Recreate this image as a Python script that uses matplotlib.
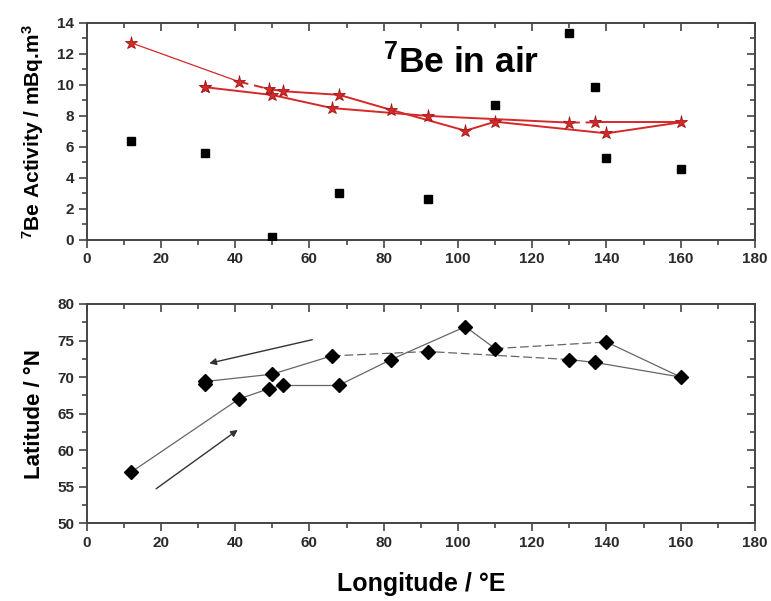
import numpy as np
import matplotlib
matplotlib.use('Agg')
import matplotlib.pyplot as plt
from matplotlib.ticker import MultipleLocator

# cruise track, in sailing order
lon = [12, 41, 49, 53, 68, 82, 102, 110, 140, 160, 137, 130, 92, 66, 50, 32, 32]
lat = [57.0, 67.0, 68.4, 68.9, 68.9, 72.4, 76.9, 73.9, 74.8, 70.0, 72.0, 72.4, 73.5, 72.9, 70.4, 69.4, 69.0]
be_air = [12.7, 10.2, 9.73, 9.58, 9.35, 8.38, 7.04, 7.62, 6.87, 7.58, 7.58, 7.56, 7.99, 8.5, 9.34, 9.84, 9.84]

# dashed legs (index of starting point)
dash_top = [1, 10]
dash_bot = [7, 11, 12]

# second series (black squares)
sq_lon = [12, 32, 50, 68, 92, 110, 130, 137, 140, 160]
sq_val = [6.4, 5.62, 0.17, 3.05, 2.62, 8.72, 13.32, 9.88, 5.26, 4.55]

plt.rcParams['font.family'] = 'Liberation Sans'
plt.rcParams['font.weight'] = 'bold'
plt.rcParams['axes.labelweight'] = 'bold'
plt.rcParams['mathtext.fontset'] = 'custom'
plt.rcParams['mathtext.rm'] = 'Liberation Sans:bold'
plt.rcParams['mathtext.default'] = 'rm'

fig = plt.figure(figsize=(7.71, 6.01), dpi=100)
ax1 = fig.add_axes([0.1124, 0.6007, 0.8668, 0.3616])
ax2 = fig.add_axes([0.1124, 0.1293, 0.8668, 0.3649])

axis_col = '#444444'
red = '#d62828'


def style(ax, ymin, ymax, ymaj, ymin_step):
    ax.set_xlim(0, 180)
    ax.set_ylim(ymin, ymax)
    ax.xaxis.set_major_locator(MultipleLocator(20))
    ax.xaxis.set_minor_locator(MultipleLocator(10))
    ax.yaxis.set_major_locator(MultipleLocator(ymaj))
    ax.yaxis.set_minor_locator(MultipleLocator(ymin_step))
    for s in ax.spines.values():
        s.set_color(axis_col)
        s.set_linewidth(1.4)
    ax.tick_params(which='both', direction='out', color=axis_col, width=1.2,
                   labelsize=11, labelcolor='#2a2a2a', pad=3)
    ax.tick_params(which='major', length=6)
    ax.tick_params(which='minor', length=3.5)
    for lbl in ax.get_xticklabels() + ax.get_yticklabels():
        lbl.set_fontweight('bold')
    # mirrored ticks pointing inward
    top = ax.secondary_xaxis('top')
    top.xaxis.set_major_locator(MultipleLocator(20))
    top.xaxis.set_minor_locator(MultipleLocator(10))
    top.tick_params(which='both', direction='in', color=axis_col, width=1.2, labeltop=False)
    top.tick_params(which='major', length=6)
    top.tick_params(which='minor', length=3.5)
    right = ax.secondary_yaxis('right')
    right.yaxis.set_major_locator(MultipleLocator(ymaj))
    right.yaxis.set_minor_locator(MultipleLocator(ymin_step))
    right.tick_params(which='both', direction='in', color=axis_col, width=1.2, labelright=False)
    right.tick_params(which='major', length=6)
    right.tick_params(which='minor', length=3.5)
    top.spines['top'].set_visible(False)
    right.spines['right'].set_visible(False)


# top panel
for i in range(len(lon) - 1):
    ls = (0, (5, 3)) if i in dash_top else '-'
    lw = 0.9 if i == 0 else 1.4
    ax1.plot(lon[i:i + 2], be_air[i:i + 2], color=red, lw=lw, ls=ls, zorder=2)
ax1.plot(lon, be_air, ls='none', marker='*', ms=9.5, color=red,
         markeredgecolor='#a01818', markeredgewidth=0.6, zorder=3)
ax1.plot(sq_lon, sq_val, ls='none', marker='s', ms=6, color='black', zorder=3)
style(ax1, 0, 14, 2, 1)
ax1.set_ylabel(r'$^{7}$Be Activity / mBq.m$^{3}$', fontsize=15, labelpad=8)
ax1.text(0.443, 0.768, r'$^{7}$Be in air', transform=ax1.transAxes, fontsize=25.5,
         fontweight='bold', ha='left', va='baseline')

# bottom panel
for i in range(len(lon) - 1):
    ls = (0, (7, 3)) if i in dash_bot else '-'
    ax2.plot(lon[i:i + 2], lat[i:i + 2], color='#666666', lw=0.9, ls=ls, zorder=2)
ax2.plot(lon, lat, ls='none', marker='D', ms=7.5, color='black', zorder=3)
ax2.annotate('', xy=(41.3, 63.0), xytext=(18.1, 54.5),
             arrowprops=dict(arrowstyle='-|>', color='#333333', lw=1.0, mutation_scale=10))
ax2.annotate('', xy=(32.3, 71.8), xytext=(61.5, 75.2),
             arrowprops=dict(arrowstyle='-|>', color='#333333', lw=1.0, mutation_scale=10))
style(ax2, 50, 80, 5, 2.5)
ax2.set_ylabel('Latitude / °N', fontsize=16, labelpad=9)
ax2.set_xlabel('Longitude / °E', fontsize=18, labelpad=16)

plt.savefig('out.png', dpi=100)
